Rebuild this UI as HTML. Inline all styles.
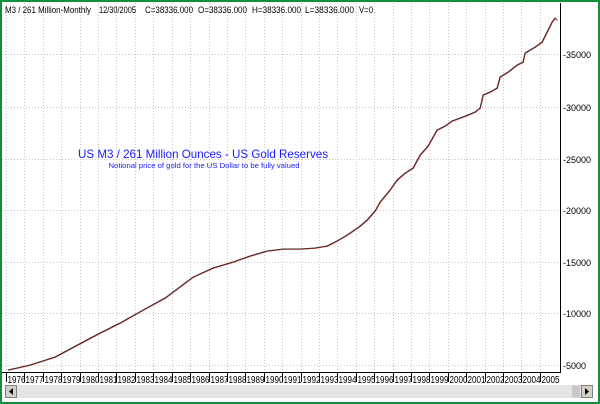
<!DOCTYPE html>
<html><head><style>
html,body{margin:0;padding:0;background:#fff}
svg{display:block}
text{font-family:"Liberation Sans",Arial,sans-serif}
</style></head><body>
<svg width="600" height="404" viewBox="0 0 600 404" xmlns="http://www.w3.org/2000/svg">
<rect x="0" y="0" width="600" height="404" fill="#fff"/>
<g stroke="#c8c8c8" stroke-width="1" stroke-dasharray="1,2">
<line x1="2" y1="54.5" x2="560" y2="54.5"/>
<line x1="2" y1="107.5" x2="560" y2="107.5"/>
<line x1="2" y1="159.5" x2="560" y2="159.5"/>
<line x1="2" y1="210.5" x2="560" y2="210.5"/>
<line x1="2" y1="262.5" x2="560" y2="262.5"/>
<line x1="2" y1="313.5" x2="560" y2="313.5"/>
<line x1="2" y1="365.5" x2="560" y2="365.5"/>
</g>
<g id="vg" stroke="#c8c8c8" stroke-width="1" stroke-dasharray="1,2"></g>
<g font-size="9" fill="#000" lengthAdjust="spacingAndGlyphs">
<text x="5" y="13" textLength="86" lengthAdjust="spacingAndGlyphs">M3 / 261 Million-Monthly</text>
<text x="99" y="13" textLength="37" lengthAdjust="spacingAndGlyphs">12/30/2005</text>
<text x="145" y="13" textLength="48" lengthAdjust="spacingAndGlyphs">C=38336.000</text>
<text x="198" y="13" textLength="49" lengthAdjust="spacingAndGlyphs">O=38336.000</text>
<text x="252" y="13" textLength="49" lengthAdjust="spacingAndGlyphs">H=38336.000</text>
<text x="305" y="13" textLength="49" lengthAdjust="spacingAndGlyphs">L=38336.000</text>
<text x="359" y="13" textLength="14" lengthAdjust="spacingAndGlyphs">V=0</text>
</g>
<text x="203" y="158" font-size="12" fill="#1a1aff" text-anchor="middle" textLength="250" lengthAdjust="spacingAndGlyphs">US M3 / 261 Million Ounces - US Gold Reserves</text>
<text x="204" y="168" font-size="7.5" fill="#1a1aff" text-anchor="middle" textLength="191" lengthAdjust="spacingAndGlyphs">Notional price of gold for the US Dollar to be fully valued</text>
<polyline fill="none" stroke="#2a2a2a" stroke-width="1" points="8,370 30,365 55,357 83,342 100,333 120,323 143,310 165,298 193,277 213,268 233,262 250,256 267,251 283,249 300,249 315,248 327,246 333,243 342,238 350,233 360,226 367,220 375,211 380,202 390,190 397,180 405,173 413,168 420,155 428,146 433,137 437,130 445,126 452,121 460,118 468,115 475,112 480,108 482,100 483,95 490,92 497,88 500,77 508,72 517,65 523,62 525,53 535,47 542,42 547,32 552,22 555,18 557,20"/>
<polyline fill="none" stroke="#c02020" stroke-width="0.6" points="8,370 30,365 55,357 83,342 100,333 120,323 143,310 165,298 193,277 213,268 233,262 250,256 267,251 283,249 300,249 315,248 327,246 333,243 342,238 350,233 360,226 367,220 375,211 380,202 390,190 397,180 405,173 413,168 420,155 428,146 433,137 437,130 445,126 452,121 460,118 468,115 475,112 480,108 482,100 483,95 490,92 497,88 500,77 508,72 517,65 523,62 525,53 535,47 542,42 547,32 552,22 555,18 557,20" transform="translate(0.5,0.5)"/>
<line x1="560.5" y1="3" x2="560.5" y2="373" stroke="#000"/>
<line x1="2" y1="372.5" x2="561" y2="372.5" stroke="#000"/>
<g font-size="9" fill="#000">
<text x="563" y="58">-35000</text>
<text x="563" y="111">-30000</text>
<text x="563" y="163">-25000</text>
<text x="563" y="214">-20000</text>
<text x="563" y="266">-15000</text>
<text x="563" y="317">-10000</text>
<text x="563" y="369">-5000</text>
</g>
<g id="xl" font-size="10" fill="#000"></g>
<rect x="5" y="385" width="588" height="13" fill="#e4e4e4"/>
<rect x="5.5" y="385.5" width="11" height="12" fill="#d4d0c8" stroke="#808080"/>
<polygon points="13,388 9,391.5 13,395" fill="#000"/>
<rect x="572" y="385.5" width="8" height="12" fill="#c8c8c8"/>
<rect x="581.5" y="385.5" width="11" height="12" fill="#d4d0c8" stroke="#808080"/>
<polygon points="585,388 589,391.5 585,395" fill="#000"/>
<rect x="1" y="1" width="598" height="402" fill="none" stroke="#10903a" stroke-width="2"/>
<script>
var vg=document.getElementById('vg'),xl=document.getElementById('xl');
for(var k=0;k<30;k++){var x=Math.round(6+18.41*k)+0.5;
var l=document.createElementNS('http://www.w3.org/2000/svg','line');
l.setAttribute('x1',x);l.setAttribute('x2',x);l.setAttribute('y1',3);l.setAttribute('y2',372);vg.appendChild(l);
var t=document.createElementNS('http://www.w3.org/2000/svg','line');
t.setAttribute('x1',x);t.setAttribute('x2',x);t.setAttribute('y1',372);t.setAttribute('y2',382);t.setAttribute('stroke','#000');xl.appendChild(t);
var s=document.createElementNS('http://www.w3.org/2000/svg','text');
s.setAttribute('x',x+1);s.setAttribute('y',383);s.setAttribute('textLength',18);s.setAttribute('lengthAdjust','spacingAndGlyphs');s.textContent=1976+k;xl.appendChild(s);}
</script>
</svg>
</body></html>
